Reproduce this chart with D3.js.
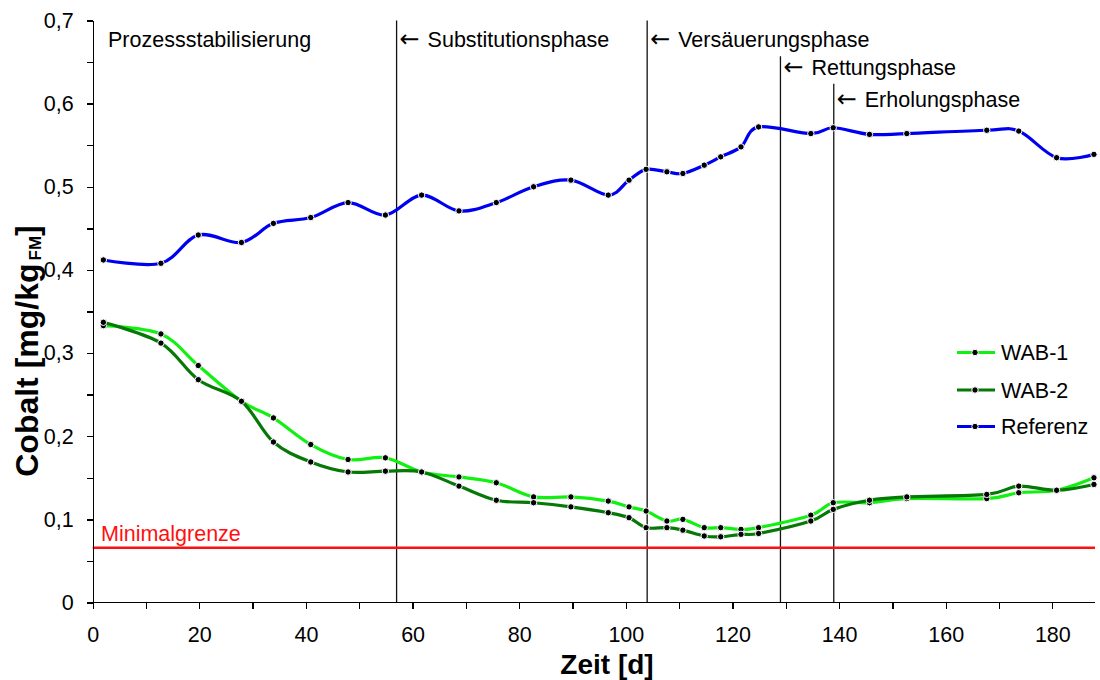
<!doctype html>
<html>
<head>
<meta charset="utf-8">
<title>Cobalt</title>
<script src="https://cdn.jsdelivr.net/npm/d3@7"></script>
<style>
body { margin: 0; background: #fff; font-family: 'Liberation Sans', Arial, sans-serif; }
.axis path, .axis line { stroke: #000; stroke-width: 1.3px; shape-rendering: crispEdges; }
.axis text { font-size: 21.5px; fill: #000; font-family: 'Liberation Sans', Arial, sans-serif; }
.phase { font-size: 21.5px; fill: #000; }
.arrow { font-size: 24px; fill: #000; font-family: 'DejaVu Sans', sans-serif; }
.legend text { font-size: 21.5px; fill: #000; }
</style>
</head>
<body>
<svg id="chart" width="1100" height="680"></svg>
<script>
// sampling days (same for all three series)
var days = [2, 12.8, 19.8, 27.9, 33.9, 40.9, 47.9, 54.9, 61.7, 68.7, 75.7, 82.7, 89.7, 96.7, 100.6,
            103.8, 107.7, 110.7, 114.7, 117.8, 121.6, 124.9, 134.7, 138.9, 145.7, 152.7, 167.7, 173.7, 180.8, 187.8];

var wab1 = [0.333, 0.323, 0.285, 0.242, 0.222, 0.190, 0.172, 0.174, 0.157, 0.151, 0.144, 0.127, 0.127, 0.122, 0.115,
            0.110, 0.098, 0.100, 0.090, 0.090, 0.088, 0.090, 0.105, 0.120, 0.120, 0.125, 0.125, 0.132, 0.135, 0.150];
var wab2 = [0.337, 0.312, 0.268, 0.242, 0.193, 0.169, 0.157, 0.158, 0.157, 0.140, 0.123, 0.120, 0.115, 0.108, 0.102,
            0.090, 0.090, 0.087, 0.080, 0.079, 0.082, 0.083, 0.098, 0.112, 0.123, 0.127, 0.130, 0.140, 0.135, 0.142];
var referenz = [0.412, 0.408, 0.442, 0.433, 0.456, 0.463, 0.481, 0.466, 0.490, 0.471, 0.481, 0.500, 0.508, 0.490, 0.508,
            0.521, 0.518, 0.516, 0.526, 0.536, 0.548, 0.572, 0.564, 0.571, 0.563, 0.564, 0.568, 0.567, 0.535, 0.539];

var seriesNames = ['WAB-1', 'WAB-2', 'Referenz'];
var seriesColors = ['#11f011', '#067806', '#0000f0'];

var minimalgrenze = 0.066;

// phase boundaries
var phaseDays = [57, 104, 129, 139];
var phaseLabels = ['Substitutionsphase', 'Versäuerungsphase', 'Rettungsphase', 'Erholungsphase'];
var phaseTop = [0.7, 0.7, 0.657, 0.624];   // where each vertical line starts
var phaseLabelY = [0.677, 0.677, 0.643, 0.605];

var xTicks = [0, 20, 40, 60, 80, 100, 120, 140, 160, 180];
var yTicks = [0, 0.1, 0.2, 0.3, 0.4, 0.5, 0.6, 0.7];

var plotLeft = 92.7, plotRight = 1095, plotTop = 20.5, plotBottom = 602.5;

var svg = d3.select('#chart');

var x = d3.scaleLinear().domain([0, 188]).range([plotLeft, plotRight]);
var y = d3.scaleLinear().domain([0, 0.7]).range([plotBottom, plotTop]);

var fmt = function(d) { return d === 0 ? '0' : d3.format('.1f')(d).replace('.', ','); };

// phase lines
var gPhase = svg.append('g');
phaseDays.forEach(function(d, i) {
  gPhase.append('line')
    .attr('x1', x(d)).attr('x2', x(d))
    .attr('y1', y(phaseTop[i])).attr('y2', plotBottom)
    .attr('stroke', '#111').attr('stroke-width', 1.3);
  gPhase.append('text')
    .attr('class', 'arrow')
    .attr('x', x(d) + 3)
    .attr('y', y(phaseLabelY[i]))
    .attr('dy', '0.3em')
    .text('\u2190');
  gPhase.append('text')
    .attr('class', 'phase')
    .attr('x', x(d) + 31)
    .attr('y', y(phaseLabelY[i]))
    .attr('dy', '0.35em')
    .text(phaseLabels[i]);
});
gPhase.append('text')
  .attr('class', 'phase')
  .attr('x', 108)
  .attr('y', y(0.677))
  .attr('dy', '0.35em')
  .text('Prozessstabilisierung');

// Minimalgrenze
svg.append('line')
  .attr('x1', plotLeft).attr('x2', plotRight)
  .attr('y1', y(minimalgrenze)).attr('y2', y(minimalgrenze))
  .attr('stroke', '#ff1010').attr('stroke-width', 2.5);
svg.append('text')
  .attr('x', 101).attr('y', y(minimalgrenze) - 7)
  .attr('fill', '#ff1010').style('font-size', '21.5px')
  .text('Minimalgrenze');

// axes
var xAxis = d3.axisBottom(x).tickValues(d3.range(0, 181, 10)).tickSize(6).tickSizeOuter(0)
  .tickFormat(function(d) { return xTicks.indexOf(d) >= 0 ? d : ''; });
var gx = svg.append('g').attr('class', 'axis').attr('transform', 'translate(0,' + plotBottom + ')').call(xAxis);
gx.selectAll('.tick text').attr('y', 24).attr('dy', '0.71em');
gx.select('.domain').attr('d', 'M' + plotLeft + ',0H' + plotRight);

var yAxis = d3.axisLeft(y).tickValues(d3.range(0, 0.701, 0.05)).tickSize(6).tickSizeOuter(0)
  .tickFormat(function(d) {
    var r = Math.round(d * 10) / 10;
    return Math.abs(r - d) < 1e-6 ? fmt(r) : '';
  });
var gy = svg.append('g').attr('class', 'axis').attr('transform', 'translate(' + plotLeft + ',0)').call(yAxis);
gy.selectAll('.tick text').attr('x', -19);

// axis titles
svg.append('text')
  .attr('x', 607).attr('y', 674)
  .attr('text-anchor', 'middle')
  .style('font-size', '28px').style('font-weight', 'bold')
  .text('Zeit [d]');

var yt = svg.append('text')
  .attr('transform', 'translate(38,351) rotate(-90)')
  .attr('text-anchor', 'middle')
  .style('font-size', '32px').style('font-weight', 'bold');
yt.append('tspan').text('Cobalt [mg/kg');
yt.append('tspan').style('font-size', '17px').attr('dx', 3).attr('dy', 3).text('FM');
yt.append('tspan').attr('dy', -3).text(']');

// series
var allSeries = [wab1, wab2, referenz];
var line = d3.line()
  .x(function(d) { return x(d[0]); })
  .y(function(d) { return y(d[1]); })
  .curve(d3.curveCardinal.tension(0));

allSeries.forEach(function(vals, i) {
  var pts = days.map(function(d, j) { return [d, vals[j]]; });
  var g = svg.append('g');
  g.append('path')
    .attr('d', line(pts))
    .attr('fill', 'none')
    .attr('stroke', seriesColors[i])
    .attr('stroke-width', 3.2);
  g.selectAll('circle').data(pts).enter().append('circle')
    .attr('cx', function(d) { return x(d[0]); })
    .attr('cy', function(d) { return y(d[1]); })
    .attr('r', 3.2)
    .attr('fill', '#000')
    .attr('stroke', '#fff')
    .attr('stroke-width', 1);
});

// legend
var legendY = [352.5, 390, 426.5];
var lg = svg.append('g').attr('class', 'legend');
seriesNames.forEach(function(n, i) {
  lg.append('line')
    .attr('x1', 957).attr('x2', 995)
    .attr('y1', legendY[i]).attr('y2', legendY[i])
    .attr('stroke', seriesColors[i]).attr('stroke-width', 3.2);
  lg.append('circle')
    .attr('cx', 975).attr('cy', legendY[i]).attr('r', 3.2)
    .attr('fill', '#000').attr('stroke', '#fff').attr('stroke-width', 1);
  lg.append('text')
    .attr('x', 1001).attr('y', legendY[i]).attr('dy', '0.35em')
    .text(n);
});
</script>
</body>
</html>
